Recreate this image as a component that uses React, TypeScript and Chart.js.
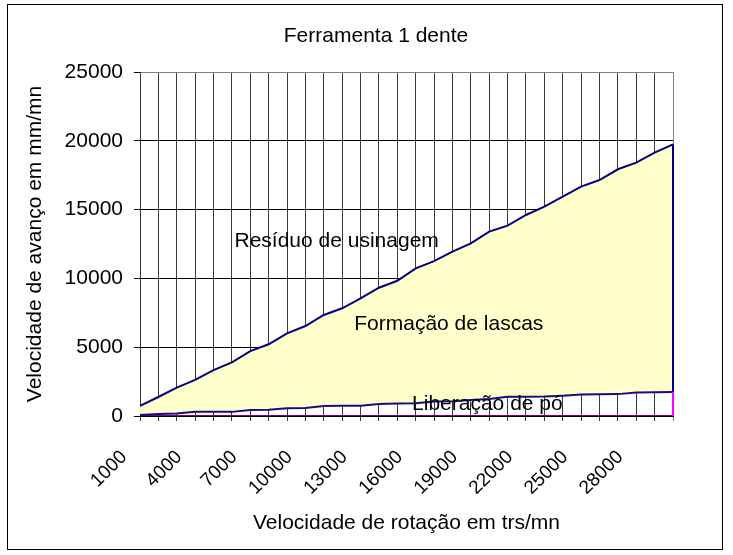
import React, { useEffect, useRef } from "react";
import { Chart, registerables } from "chart.js";

Chart.register(...registerables);

const rpmCategories = [
  1000, 2000, 3000, 4000, 5000, 6000, 7000, 8000, 9000, 10000,
  11000, 12000, 13000, 14000, 15000, 16000, 17000, 18000, 19000, 20000,
  21000, 22000, 23000, 24000, 25000, 26000, 27000, 28000, 29000, 30000,
];

// Upper boundary (Formação de lascas / Resíduo de usinagem)
const formacaoLascas = [
  730, 1380, 2060, 2620, 3340, 3900, 4720, 5210, 6010, 6540,
  7340, 7830, 8550, 9320, 9830, 10730, 11250, 11940, 12550, 13400,
  13830, 14610, 15210, 15940, 16670, 17150, 17930, 18410, 19140, 19740,
];

// Lower boundary (Liberação de pó)
const liberacaoPo = [
  70, 145, 190, 300, 300, 300, 440, 450, 570, 590,
  720, 740, 740, 870, 900, 920, 1050, 1070, 1170, 1230,
  1400, 1400, 1410, 1480, 1570, 1580, 1590, 1700, 1720, 1740,
];

const baseLine = [
  0, 0, 0, 0, 0, 0, 0, 0, 0, 0,
  0, 0, 0, 0, 0, 0, 0, 0, 0, 0,
  0, 0, 0, 0, 0, 0, 0, 0, 0, 0,
];

const xTickLabels = ["1000", "4000", "7000", "10000", "13000", "16000", "19000", "22000", "25000", "28000"];
const yTicks = [0, 5000, 10000, 15000, 20000, 25000];

const chartTitle = "Ferramenta 1 dente";
const zoneLabels = ["Resíduo de usinagem", "Formação de lascas", "Liberação de pó"];
const zoneLabelRpm = [11700, 17800, 19900];
const zoneLabelValue = [12700, 6700, 870];

const FONT = "'Liberation Sans', Arial, sans-serif";

export default function App() {
  const ref = useRef<HTMLCanvasElement>(null);

  useEffect(() => {
    const canvas = ref.current;
    if (!canvas) return;

    const overlay = {
      id: "overlay",
      afterDatasetsDraw(chart: any) {
        const { ctx, scales } = chart;
        const xs = scales.x;
        const ys = scales.y;
        const last = rpmCategories.length - 1;
        const xl = xs.getPixelForValue(last);
        const yTop = ys.getPixelForValue(formacaoLascas[last]);
        const yLow = ys.getPixelForValue(liberacaoPo[last]);
        const y0 = ys.getPixelForValue(baseLine[last]);
        ctx.save();
        ctx.lineWidth = 2;
        ctx.strokeStyle = "#000080";
        ctx.beginPath();
        ctx.moveTo(xl, yTop);
        ctx.lineTo(xl, yLow);
        ctx.stroke();
        ctx.strokeStyle = "#FF00FF";
        ctx.beginPath();
        ctx.moveTo(xl, yLow);
        ctx.lineTo(xl, y0);
        ctx.stroke();

        ctx.fillStyle = "#000";
        ctx.font = `21px ${FONT}`;
        ctx.textAlign = "center";
        ctx.textBaseline = "middle";
        zoneLabels.forEach((t, i) => {
          const idx = (zoneLabelRpm[i] - rpmCategories[0]) / (rpmCategories[1] - rpmCategories[0]);
          ctx.fillText(t, xs.getPixelForValue(idx), ys.getPixelForValue(zoneLabelValue[i]));
        });

        // chart title
        ctx.fillText(chartTitle, 368, 31);
        ctx.restore();
      },
    };

    const chart = new Chart(canvas, {
      type: "line",
      data: {
        labels: rpmCategories.map(String),
        datasets: [
          {
            label: "Liberação de pó",
            data: liberacaoPo,
            borderColor: "#1a0a80",
            borderWidth: 2,
            pointRadius: 0,
            fill: false,
            tension: 0,
          },
          {
            label: "Formação de lascas",
            data: formacaoLascas,
            borderColor: "#000080",
            borderWidth: 2,
            backgroundColor: "#FFFFCC",
            pointRadius: 0,
            fill: "-1",
            tension: 0,
          },
          {
            label: "base",
            data: baseLine,
            borderColor: "#800080",
            borderWidth: 2,
            pointRadius: 0,
            fill: false,
            tension: 0,
          },
        ],
      },
      options: {
        responsive: false,
        animation: false,
        layout: { padding: { top: 67, right: 49, bottom: 0, left: 0 } },
        plugins: {
          legend: { display: false },
          tooltip: { enabled: false },
          title: { display: false },
        },
        scales: {
          x: {
            type: "category",
            offset: false,
            grid: {
              color: (c: any) => (c.index === rpmCategories.length - 1 ? "#808080" : "#3c3c3c"),
              tickColor: (c: any) => (c.index === rpmCategories.length - 1 ? "#808080" : "#3c3c3c"),
              tickLength: 5,
              lineWidth: 1,
            },
            border: { color: "#000" },
            ticks: {
              autoSkip: false,
              maxRotation: 45,
              minRotation: 45,
              padding: 25,
              labelOffset: -16,
              color: "#000",
              font: { size: 19, family: FONT },
              callback: (_v: any, i: number) => {
                const s = String(rpmCategories[i]);
                return xTickLabels.includes(s) ? s : "";
              },
            },
            title: {
              display: true,
              text: "Velocidade de rotação em trs/mn",
              color: "#000",
              font: { size: 21, family: FONT },
              padding: { top: 0, bottom: 13 },
            },
            afterFit: (s: any) => {
              s.height = 133;
            },
          },
          y: {
            min: 0,
            max: 25000,
            afterBuildTicks: (s: any) => {
              s.ticks = yTicks.map((v) => ({ value: v }));
            },
            grid: {
              color: (c: any) => (c.tick && c.tick.value === 25000 ? "#808080" : "#000"),
              tickColor: "#000",
              tickLength: 6,
              lineWidth: 1,
            },
            border: { color: "#333" },
            ticks: {
              padding: 11,
              color: "#000",
              font: { size: 21, family: FONT },
              callback: (v: any) => String(v),
            },
            title: {
              display: true,
              text: "Velocidade de avanço em mm/mn",
              color: "#000",
              font: { size: 21, family: FONT },
              padding: { top: 15, bottom: 0 },
            },
            afterFit: (s: any) => {
              s.width = 132;
            },
          },
        },
      },
      plugins: [overlay],
    } as any);

    return () => chart.destroy();
  }, []);

  return (
    <div
      style={{
        position: "absolute",
        left: 7,
        top: 4,
        width: 716,
        height: 546,
        border: "1px solid #000",
        boxSizing: "border-box",
        background: "#fff",
      }}
    >
      <canvas ref={ref} width={714} height={544} style={{ display: "block" }} />
    </div>
  );
}
